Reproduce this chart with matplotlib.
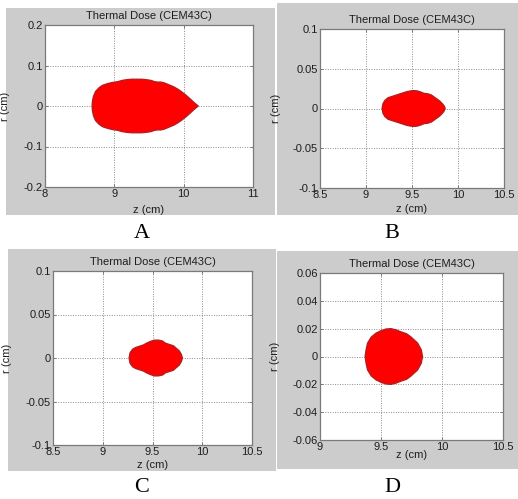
import numpy as np
import matplotlib
matplotlib.use("Agg")
import matplotlib.pyplot as plt
from matplotlib.patches import Rectangle
from matplotlib.transforms import Bbox

# ---- data (upper outline of each thermal-dose region; lower half mirrored) ----
zA = [8.68, 8.685, 8.70, 8.73, 8.78, 8.83, 8.90, 8.97, 9.05, 9.11, 9.18, 9.25, 9.32, 9.39, 9.46,
      9.53, 9.58, 9.62, 9.67, 9.72, 9.79, 9.86, 9.92, 9.97, 10.03, 10.09, 10.14, 10.18, 10.21]
rA = [0.0, 0.012, 0.024, 0.036, 0.045, 0.051, 0.055, 0.058, 0.060, 0.063, 0.065, 0.066, 0.066, 0.066, 0.065,
      0.063, 0.060, 0.059, 0.059, 0.057, 0.052, 0.047, 0.041, 0.035, 0.027, 0.018, 0.010, 0.004, 0.0]

zB = [9.175, 9.185, 9.205, 9.24, 9.28, 9.32, 9.36, 9.40, 9.44, 9.48, 9.52, 9.56, 9.60, 9.63,
      9.67, 9.71, 9.74, 9.77, 9.80, 9.83, 9.85, 9.86]
rB = [0.0, 0.006, 0.010, 0.0135, 0.015, 0.0165, 0.018, 0.0195, 0.021, 0.022, 0.0225, 0.022, 0.0205, 0.019,
      0.0185, 0.017, 0.0145, 0.012, 0.0095, 0.006, 0.003, 0.0]

zC = [9.265, 9.275, 9.30, 9.33, 9.37, 9.41, 9.44, 9.48, 9.52, 9.56, 9.60, 9.63, 9.67, 9.71,
      9.74, 9.77, 9.79, 9.80]
rC = [0.0, 0.006, 0.010, 0.012, 0.0135, 0.015, 0.017, 0.019, 0.0205, 0.0205, 0.0195, 0.017, 0.0155, 0.014,
      0.011, 0.008, 0.004, 0.0]

zD = [9.37, 9.378, 9.39, 9.42, 9.46, 9.50, 9.54, 9.58, 9.62, 9.66, 9.71, 9.747, 9.80, 9.83, 9.84]
rD = [0.0, 0.0048, 0.0096, 0.0139, 0.0168, 0.0185, 0.0197, 0.0200, 0.0192, 0.0178, 0.0163, 0.0139,
      0.0096, 0.0048, 0.0]

xticksA = [8, 9, 10, 11]
yticksA = [-0.2, -0.1, 0, 0.1, 0.2]
xticksB = [8.5, 9, 9.5, 10, 10.5]
yticksB = [-0.1, -0.05, 0, 0.05, 0.1]
xticksD = [9, 9.5, 10, 10.5]
yticksD = [-0.06, -0.04, -0.02, 0, 0.02, 0.04, 0.06]

xtlA = ["8", "9", "10", "11"]
ytlA = ["-0.2", "-0.1", "0", "0.1", "0.2"]
xtlB = ["8.5", "9", "9.5", "10", "10.5"]
ytlB = ["-0.1", "-0.05", "0", "0.05", "0.1"]
xtlD = ["9", "9.5", "10", "10.5"]
ytlD = ["-0.06", "-0.04", "-0.02", "0", "0.02", "0.04", "0.06"]

panel_letters = ["A", "B", "C", "D"]
title_text = "Thermal Dose (CEM43C)"

# ---- figure ----
W, H = 518, 499
fig = plt.figure(figsize=(W / 100, H / 100), dpi=100)
fig.patch.set_facecolor("white")
plt.rcParams["font.family"] = ["Liberation Sans", "DejaVu Sans"]

def fx(x):
    return x / W

def fy(y):
    return 1 - y / H

panels = [
    dict(gray=(6, 8, 275, 215), ax=(45, 25, 253, 187), z=zA, r=rA,
         xlim=(8, 11), ylim=(-0.2, 0.2), xt=xticksA, yt=yticksA, xtl=xtlA, ytl=ytlA,
         ylx=-0.168, xly=-0.111, letter=(142, 234)),
    dict(gray=(277, 3, 518, 215), ax=(320, 29, 504, 188), z=zB, r=rB,
         xlim=(8.5, 10.5), ylim=(-0.1, 0.1), xt=xticksB, yt=yticksB, xtl=xtlB, ytl=ytlB,
         ylx=-0.212, xly=-0.10, letter=(392, 234)),
    dict(gray=(8, 249, 276, 471), ax=(53, 271, 252, 445), z=zC, r=rC,
         xlim=(8.5, 10.5), ylim=(-0.1, 0.1), xt=xticksB, yt=yticksB, xtl=xtlB, ytl=ytlB,
         ylx=-0.206, xly=-0.088, letter=(142, 488)),
    dict(gray=(277, 251, 518, 469), ax=(320, 273, 503, 440), z=zD, r=rD,
         xlim=(9, 10.5), ylim=(-0.06, 0.06), xt=xticksD, yt=yticksD, xtl=xtlD, ytl=ytlD,
         ylx=-0.219, xly=-0.06, letter=(392, 488)),
]

gray_col = "#cccccc"
spine_col = "#7a7a7a"
text_col = "#1e1e1e"

for p, letter in zip(panels, panel_letters):
    gx0, gy0, gx1, gy1 = p["gray"]
    rect = Rectangle((fx(gx0), fy(gy1)), fx(gx1 - gx0), (gy1 - gy0) / H,
                     transform=fig.transFigure, facecolor=gray_col, edgecolor="none", zorder=-10)
    fig.add_artist(rect)

    ax0, ay0, ax1, ay1 = p["ax"]
    ax = fig.add_axes([fx(ax0), fy(ay1), fx(ax1 - ax0), (ay1 - ay0) / H])
    ax.set_zorder(1)
    ax.set_facecolor("white")
    z = np.array(p["z"])
    r = np.array(p["r"])
    zz = np.concatenate([z, z[::-1]])
    rr = np.concatenate([r, -r[::-1]])
    ax.fill(zz, rr, facecolor="#ff0000", edgecolor="#b81c1c", linewidth=1.0, zorder=3)

    ax.set_xlim(*p["xlim"])
    ax.set_ylim(*p["ylim"])
    ax.set_xticks(p["xt"])
    ax.set_yticks(p["yt"])
    ax.set_xticklabels(p["xtl"])
    ax.set_yticklabels(p["ytl"])
    ax.grid(True, color="#8c8c8c", linestyle=(0, (1, 1.5)), linewidth=0.7, zorder=1)
    ax.set_axisbelow(True)
    for s in ax.spines.values():
        s.set_color(spine_col)
        s.set_linewidth(0.9)
    ax.tick_params(direction="in", length=2.5, width=0.7, color=spine_col,
                   top=True, right=True, labelsize=8, labelcolor=text_col, pad=1.5)

    ax.set_title(title_text, fontsize=8, color=text_col, pad=4.5)
    ax.set_ylabel("r (cm)", fontsize=8, color=text_col)
    ax.yaxis.set_label_coords(p["ylx"], 0.5)
    xl = ax.set_xlabel("z (cm)", fontsize=8, color=text_col)
    ax.xaxis.set_label_coords(0.5, p["xly"])
    clipbox = Bbox.from_extents(gx0, H - gy1, gx1, H - gy0)
    xl.set_clip_box(clipbox)
    xl.set_clip_on(True)

    lx, ly = p["letter"]
    fig.text(fx(lx), fy(ly), letter, ha="center", va="center",
             fontsize=16, family=["Liberation Serif", "DejaVu Serif"], color="black")

fig.savefig("out.png", dpi=100, facecolor="white")
